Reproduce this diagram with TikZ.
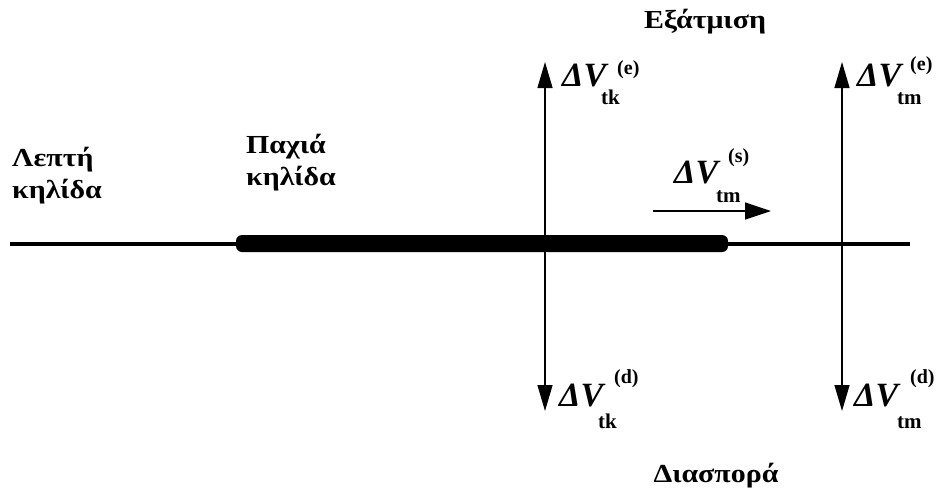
\documentclass[tikz,border=0pt]{standalone}
\usepackage{fontspec}
\setmainfont{Liberation Serif}
\newfontfamily\widegr[FakeStretch=1.15]{Liberation Serif}
\usetikzlibrary{arrows.meta}
\begin{document}
\begin{tikzpicture}[x=1pt,y=-1pt,
  lbl/.style={font=\widegr\bfseries\fontsize{26}{32}\selectfont, align=left, inner sep=0pt, anchor=base west},
  dvm/.style={font=\bfseries\itshape\fontsize{34}{34}\selectfont, inner sep=0pt, anchor=base west},
  subl/.style={font=\bfseries\fontsize{21}{21}\selectfont, inner sep=0pt, anchor=base west},
  supl/.style={font=\bfseries\fontsize{20}{20}\selectfont, inner sep=0pt, anchor=base west},
  varrow/.style={line width=1.3pt, {Triangle[length=26pt,width=15pt]}-{Triangle[length=26pt,width=15pt]}},
]
\useasboundingbox (0,0) rectangle (941,491);
% base lines
\coordinate (L) at (10,244);
\coordinate (R) at (910,244);
\draw[line width=4.5pt] (L) -- (R);
\fill[rounded corners=6pt] (236,235) rectangle (728,252);
% vertical arrows
\coordinate (A1t) at (545,62);
\coordinate (A1b) at (545,411);
\coordinate (A2t) at (842,62);
\coordinate (A2b) at (842,411);
\draw[varrow] (A1b) -- (A1t);
\draw[varrow] (A2b) -- (A2t);
% horizontal arrow
\coordinate (H1) at (653,211);
\coordinate (H2) at (771,211);
\draw[line width=1.3pt, -{Triangle[length=26pt,width=17pt]}] (H1) -- (H2);
% texts (base anchor = last line)
\node[lbl] (thin) at (12,198) {Λεπτή\\κηλίδα};
\node[lbl] (thick) at (246,185) {Παχιά\\κηλίδα};
\node[lbl, anchor=base] (evap) at (705,28) {Εξάτμιση};
\node[lbl, anchor=base] (disp) at (716,482) {Διασπορά};
% Delta V labels
\node[dvm] (v1) at (562,86) {ΔV};
\node[subl] (v1s) at (601,104) {tk};
\node[supl] (v1p) at (617,74) {(e)};
\node[dvm] (v2) at (857,86) {ΔV};
\node[subl] (v2s) at (897,104) {tm};
\node[supl] (v2p) at (910,70) {(e)};
\node[dvm] (v3) at (674,183) {ΔV};
\node[subl] (v3s) at (716,202) {tm};
\node[supl] (v3p) at (728,162) {(s)};
\node[dvm] (v4) at (559,406) {ΔV};
\node[subl] (v4s) at (598,428) {tk};
\node[supl] (v4p) at (614,383) {(d)};
\node[dvm] (v5) at (854,406) {ΔV};
\node[subl] (v5s) at (897,428) {tm};
\node[supl] (v5p) at (910,383) {(d)};
\end{tikzpicture}
\end{document}
